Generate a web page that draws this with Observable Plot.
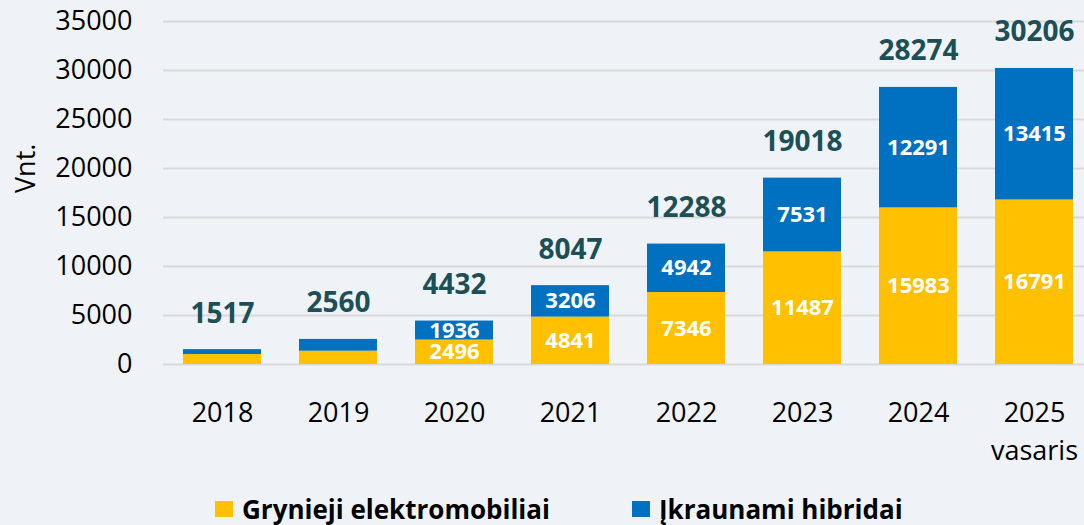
<!DOCTYPE html>
<html><head><meta charset="utf-8">
<script src="https://cdn.jsdelivr.net/npm/d3@7"></script>
<script src="https://cdn.jsdelivr.net/npm/@observablehq/plot@0.6"></script>
<style>
html,body{margin:0;padding:0;background:#eff3f7;overflow:hidden;}
#chart{width:1084px;height:470px;}
.legend{position:relative;width:1084px;height:55px;font-family:"Open Sans";font-weight:700;font-size:26px;color:#000;}
.item{position:absolute;top:23px;display:flex;align-items:center;height:32px;white-space:nowrap;}
.sw{width:18px;height:16px;margin-right:9px;}
</style></head><body>
<div id="chart"></div>
<div class="legend" id="legend"></div>
<script>
const years = ["2018","2019","2020","2021","2022","2023","2024","2025"];
const xLabels = ["2018","2019","2020","2021","2022","2023","2024","2025\nvasaris"];
const bev = [1020, 1360, 2496, 4841, 7346, 11487, 15983, 16791];
const phev = [497, 1200, 1936, 3206, 4942, 7531, 12291, 13415];
const totals = [1517, 2560, 4432, 8047, 12288, 19018, 28274, 30206];
const seriesNames = ["Grynieji elektromobiliai", "Įkraunami hibridai"];
const seriesColors = ["#FFC000", "#0070C0"];
const yTicks = [0, 5000, 10000, 15000, 20000, 25000, 30000, 35000];
const labelFromYear = 2020;

const rows = years.flatMap((y, i) => [
  {year: y, series: seriesNames[0], value: bev[i]},
  {year: y, series: seriesNames[1], value: phev[i]}
]);
const labelRows = rows.filter(d => +d.year >= labelFromYear);

const chart = Plot.plot({
  width: 1084,
  height: 470,
  marginLeft: 163,
  marginRight: 0,
  marginTop: 21,
  marginBottom: 106,
  style: {fontFamily: "Open Sans", fontSize: "27px", background: "#eff3f7", color: "#000", overflow: "visible"},
  x: {type: "band", domain: years, range: [163, 1092.4], paddingInner: 0.33, paddingOuter: 0.165},
  y: {domain: [0, 35000]},
  color: {domain: seriesNames, range: seriesColors},
  marks: [
    Plot.gridY(yTicks, {stroke: "#d9d9d9", strokeWidth: 2, strokeOpacity: 1}),
    Plot.axisY({ticks: yTicks, tickSize: 0, tickPadding: 31, label: null, fill: "#000",
      tickFormat: d => String(d)}),
    Plot.axisX({tickSize: 0, tickPadding: 31, label: null, lineHeight: 1.4, fill: "#000",
      tickFormat: d => xLabels[years.indexOf(d)]}),
    Plot.barY(rows, Plot.stackY({x: "year", y: "value", fill: "series"})),
    Plot.text(labelRows, Plot.stackY({x: "year", y: "value", z: "series", text: d => String(d.value),
      fill: "white", fontSize: 22, fontWeight: 700})),
    Plot.text(totals, {x: years, y: totals, text: totals.map(String), dy: -36,
      fill: "#1d4f56", fontSize: 28, fontWeight: 700}),
    Plot.text(["Vnt."], {frameAnchor: "left", dx: -137, rotate: -90, fontSize: 27, fill: "#000"})
  ]
});
document.getElementById("chart").appendChild(chart);

const legend = document.getElementById("legend");
const legendLeft = [215, 632];
seriesNames.forEach((name, i) => {
  const it = document.createElement("div");
  it.className = "item";
  it.style.left = legendLeft[i] + "px";
  const sw = document.createElement("span");
  sw.className = "sw";
  sw.style.background = seriesColors[i];
  const tx = document.createElement("span");
  tx.textContent = name;
  it.appendChild(sw);
  it.appendChild(tx);
  legend.appendChild(it);
});
</script>
</body></html>
